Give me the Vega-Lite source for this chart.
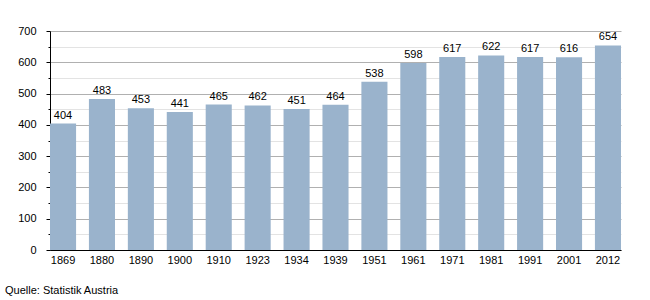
{
  "$schema": "https://vega.github.io/schema/vega-lite/v6.json",
  "width": 571,
  "height": 219,
  "autosize": {"type": "none"},
  "padding": {"left": 50, "top": 31, "right": 29, "bottom": 50},
  "background": "white",
  "config": {
    "view": {"stroke": null},
    "font": "Liberation Sans",
    "axis": {"labelFont": "Liberation Sans", "labelFontSize": 11, "labelColor": "#000000", "domainColor": "#000000", "tickColor": "#000000", "title": null}
  },
  "title": {
    "text": "Quelle: Statistik Austria",
    "orient": "bottom",
    "anchor": "start",
    "frame": "group",
    "dx": -45,
    "offset": 20,
    "fontSize": 11,
    "fontWeight": "normal",
    "color": "#000000",
    "font": "Liberation Sans"
  },
  "data": {
    "values": [
      {"year": "1869", "value": 404},
      {"year": "1880", "value": 483},
      {"year": "1890", "value": 453},
      {"year": "1900", "value": 441},
      {"year": "1910", "value": 465},
      {"year": "1923", "value": 462},
      {"year": "1934", "value": 451},
      {"year": "1939", "value": 464},
      {"year": "1951", "value": 538},
      {"year": "1961", "value": 598},
      {"year": "1971", "value": 617},
      {"year": "1981", "value": 622},
      {"year": "1991", "value": 617},
      {"year": "2001", "value": 616},
      {"year": "2012", "value": 654}
    ]
  },
  "layer": [
    {
      "mark": {"type": "bar", "color": "#9ab3cc"},
      "encoding": {
        "x": {
          "field": "year", "type": "ordinal",
          "scale": {"paddingInner": 0.33, "paddingOuter": 0},
          "axis": {"labelAngle": 0, "ticks": false, "labelPadding": 4, "domainWidth": 1}
        },
        "y": {
          "field": "value", "type": "quantitative",
          "scale": {"domain": [0, 700], "nice": false},
          "axis": {"values": [50, 150, 250, 350, 450, 550, 650], "labels": false, "grid": true, "gridColor": "#e3e3e3", "tickSize": 2, "domain": false, "orient": "left"}
        }
      }
    },
    {
      "mark": {"type": "text", "baseline": "bottom", "dy": -3, "fontSize": 11, "color": "#000000", "font": "Liberation Sans"},
      "encoding": {
        "x": {
          "field": "year", "type": "ordinal",
          "scale": {"paddingInner": 0.33, "paddingOuter": 0},
          "axis": {"labelAngle": 0, "ticks": false, "labelPadding": 4, "domainWidth": 1}
        },
        "y": {
          "field": "value", "type": "quantitative",
          "scale": {"domain": [0, 700], "nice": false},
          "axis": {"values": [0, 100, 200, 300, 400, 500, 600, 700], "grid": true, "gridColor": "#b0b0b0", "tickSize": 4, "labelPadding": 10, "orient": "left", "domainColor": "#000000"}
        },
        "text": {"field": "value", "type": "quantitative"}
      }
    }
  ],
  "resolve": {"axis": {"y": "independent"}}
}
